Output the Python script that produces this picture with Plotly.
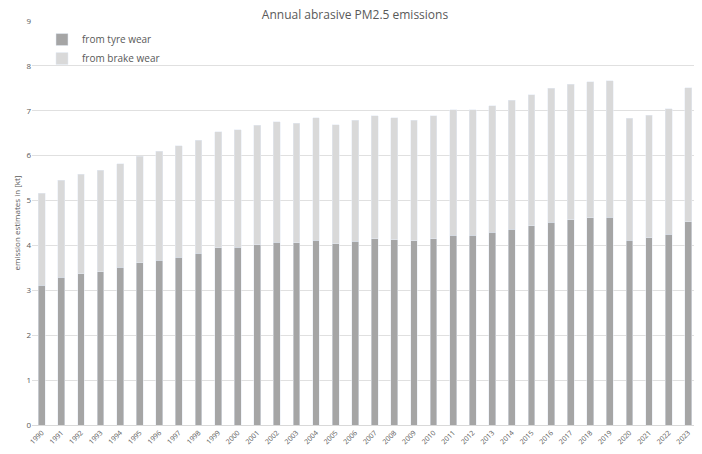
import plotly.graph_objects as go

years = [str(y) for y in range(1990, 2024)]
tyre = [3.11, 3.29, 3.37, 3.41, 3.51, 3.61, 3.67, 3.74, 3.83, 3.95, 3.96, 4.02, 4.07, 4.06, 4.12, 4.04, 4.09,
        4.15, 4.13, 4.10, 4.15, 4.23, 4.23, 4.29, 4.36, 4.44, 4.52, 4.57, 4.62, 4.63, 4.12, 4.17, 4.25, 4.53]
total = [5.16, 5.45, 5.59, 5.67, 5.82, 5.99, 6.10, 6.22, 6.34, 6.53, 6.58, 6.68, 6.76, 6.72, 6.84, 6.69, 6.79,
         6.89, 6.85, 6.79, 6.89, 7.02, 7.02, 7.11, 7.23, 7.36, 7.50, 7.59, 7.65, 7.67, 6.83, 6.90, 7.05, 7.51]
brake = [round(t - w, 2) for t, w in zip(total, tyre)]

fig = go.Figure()
fig.add_trace(go.Bar(x=years, y=tyre, name="from tyre wear", marker_color="#a5a5a5"))
fig.add_trace(go.Bar(x=years, y=brake, name="from brake wear", marker_color="#d9d9d9"))

# page body adds an 8px offset, so the figure is sized a bit smaller than the window
fig.update_layout(
    barmode="stack", bargap=0.65,
    width=694, height=446,
    margin=dict(l=24, r=4, t=13, b=29),
    paper_bgcolor="white", plot_bgcolor="white",
    font=dict(family="Open Sans", color="#595959", size=9),
    title=dict(text="Annual abrasive PM2.5 emissions", x=0.5, y=0.995, xanchor="center", yanchor="top",
               font=dict(size=12, color="#595959")),
    legend=dict(x=0.015, y=0.99, xanchor="left", yanchor="top", font=dict(size=10), traceorder="normal",
                bgcolor="rgba(0,0,0,0)"),
)
fig.update_xaxes(tickangle=-45, tickfont=dict(size=7), showline=True, linecolor="#d9d9d9", ticks="")
fig.update_yaxes(range=[0, 9], dtick=1, gridcolor="#e0e0e0", zeroline=False, tickfont=dict(size=8),
                 title=dict(text="emission estimates in [kt]", font=dict(size=8), standoff=4))

fig.write_html("out.html")
